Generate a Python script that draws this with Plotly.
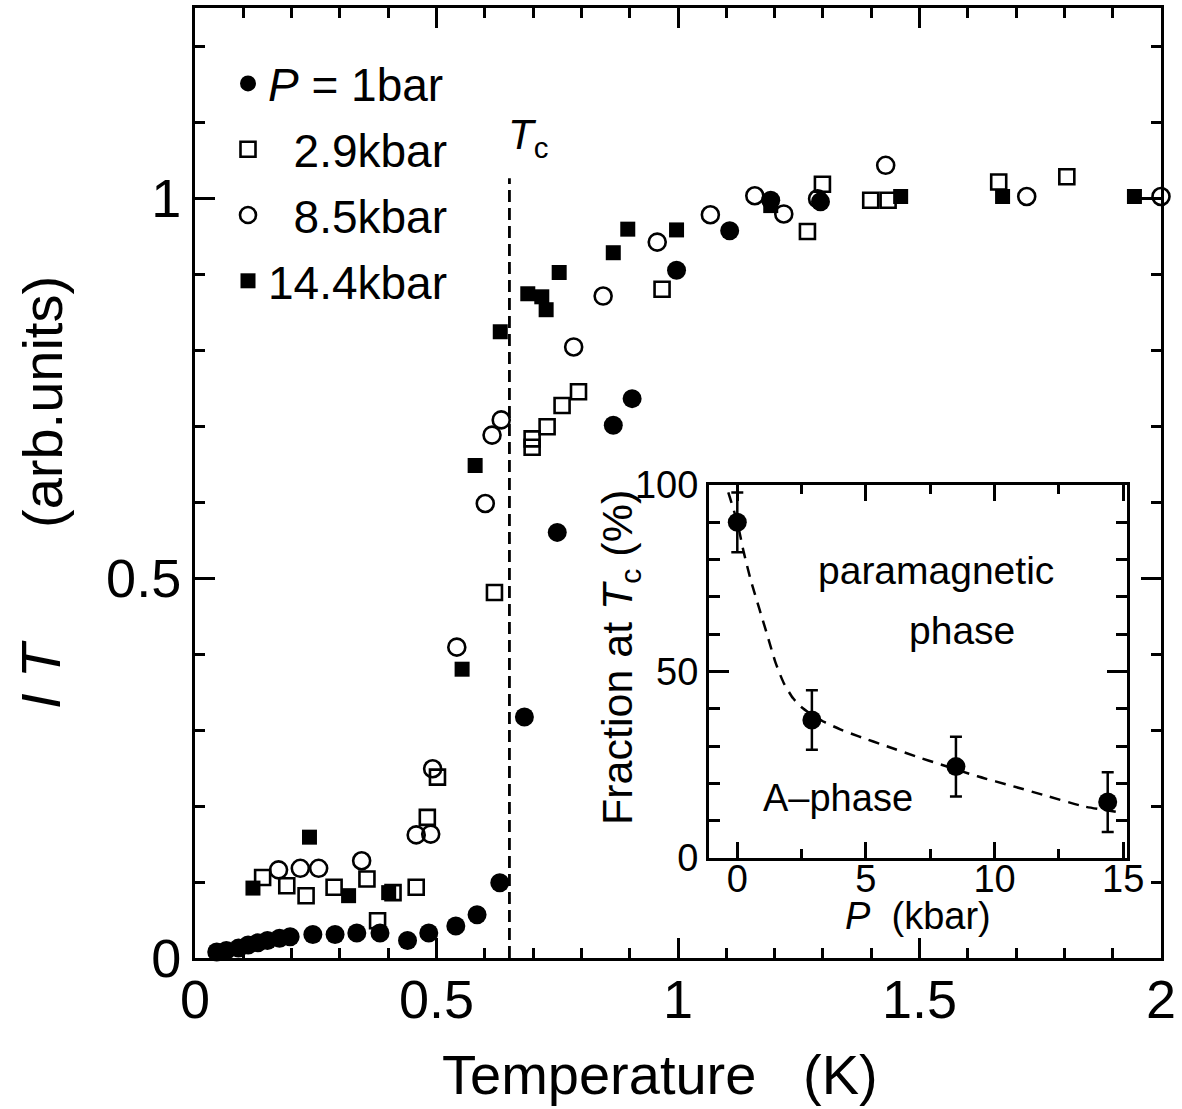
import plotly.graph_objects as go

# ---------------- data ----------------
T_1bar = [0.045, 0.065, 0.090, 0.110, 0.130, 0.150, 0.175, 0.197, 0.244, 0.290, 0.335, 0.383,
          0.440, 0.484, 0.540, 0.584, 0.631, 0.682, 0.750, 0.866, 0.905, 0.997, 1.107, 1.192, 1.295]
I_1bar = [0.008, 0.010, 0.013, 0.017, 0.020, 0.023, 0.026, 0.028, 0.031, 0.031, 0.033, 0.033,
          0.023, 0.033, 0.042, 0.057, 0.099, 0.317, 0.560, 0.701, 0.736, 0.905, 0.957, 0.997, 0.995]

T_2p9 = [0.140, 0.190, 0.230, 0.288, 0.356, 0.378, 0.410, 0.458, 0.481, 0.502, 0.620, 0.698,
         0.698, 0.729, 0.760, 0.794, 0.967, 1.268, 1.299, 1.399, 1.435, 1.664, 1.805]
I_2p9 = [0.106, 0.095, 0.082, 0.093, 0.104, 0.049, 0.086, 0.093, 0.185, 0.238, 0.481, 0.683,
         0.672, 0.699, 0.727, 0.745, 0.880, 0.956, 1.018, 0.997, 0.997, 1.021, 1.028]

T_8p5 = [0.173, 0.218, 0.256, 0.345, 0.458, 0.488, 0.492, 0.542, 0.601, 0.615, 0.634, 0.784,
         0.845, 0.957, 1.067, 1.159, 1.219, 1.289, 1.430, 1.722, 2.000]
I_8p5 = [0.116, 0.118, 0.118, 0.128, 0.162, 0.163, 0.249, 0.409, 0.598, 0.688, 0.708, 0.804,
         0.871, 0.942, 0.978, 1.003, 0.979, 0.999, 1.043, 1.002, 1.002]

T_14p4 = [0.120, 0.237, 0.318, 0.401, 0.553, 0.580, 0.632, 0.689, 0.718, 0.727, 0.754, 0.866,
          0.896, 0.997, 1.192, 1.461, 1.672, 1.945]
I_14p4 = [0.092, 0.159, 0.082, 0.086, 0.380, 0.648, 0.824, 0.874, 0.870, 0.853, 0.902, 0.928,
          0.959, 0.958, 0.990, 1.002, 1.002, 1.002]

Tc = 0.651
Tc_line_top = 1.026

# inset
P_kbar = [0.0, 2.9, 8.5, 14.4]
fraction = [90.0, 37.0, 24.5, 15.0]
fraction_err = [8.0, 8.0, 8.0, 8.0]
fit_P = [-0.35, 0.0, 0.25, 0.52, 0.87, 1.22, 1.48, 1.8, 2.17, 2.5, 2.9, 3.4, 4.0, 4.72,
         5.84, 6.96, 7.94, 9.34, 10.74, 12.1, 13.5, 15.0]
fit_F = [98, 90, 82, 74.6, 66.5, 58.5, 52.5, 47.0, 42.8, 40.4, 38.4, 36.4, 34.5, 32.6,
         29.9, 27.2, 25.0, 21.9, 19.2, 16.5, 13.8, 12.1]

x_ticks = [0, 0.5, 1, 1.5, 2]
x_ticktext = ["0", "0.5", "1", "1.5", "2"]
y_ticks = [0, 0.5, 1]
y_ticktext = ["0", "0.5", "1"]
ix_ticks = [0, 5, 10, 15]
iy_ticks = [0, 50, 100]

FONT = "Liberation Sans, Arial, Helvetica, sans-serif"
BLACK = "black"

# plot-area geometry in pixels (used for paper-coordinate placement)
L, R, T, B = 195, 21, 8, 151
W, H = 1182, 1109
PW, PH = W - L - R, H - T - B


def px(xp):
    return (xp - L) / PW


def py(yp):
    return (H - B - yp) / PH


fig = go.Figure()

fig.add_trace(go.Scatter(x=T_1bar, y=I_1bar, mode="markers", name="<i>P</i> = 1bar",
                         legendgroup="a", cliponaxis=False,
                         marker=dict(symbol="circle", size=19, color=BLACK, line=dict(width=0))))
fig.add_trace(go.Scatter(x=T_2p9, y=I_2p9, mode="markers", name="\u00a0\u00a02.9kbar",
                         legendgroup="b", cliponaxis=False,
                         marker=dict(symbol="square-open", size=15, color=BLACK, line=dict(width=2.6, color=BLACK))))
fig.add_trace(go.Scatter(x=T_8p5, y=I_8p5, mode="markers", name="\u00a0\u00a08.5kbar",
                         legendgroup="c", cliponaxis=False,
                         marker=dict(symbol="circle-open", size=17, color=BLACK, line=dict(width=2.6, color=BLACK))))
fig.add_trace(go.Scatter(x=T_14p4, y=I_14p4, mode="markers", name="14.4kbar",
                         legendgroup="d", cliponaxis=False,
                         marker=dict(symbol="square", size=15, color=BLACK, line=dict(width=0))))

# Tc dashed line
fig.add_shape(type="line", xref="x", yref="y", x0=Tc, x1=Tc, y0=0, y1=Tc_line_top,
              line=dict(color=BLACK, width=2.8, dash="12px,6px"))

# inset traces
fig.add_trace(go.Scatter(x=fit_P, y=fit_F, mode="lines", xaxis="x2", yaxis="y2", showlegend=False,
                         line=dict(color=BLACK, width=2.5, dash="11px,8px", shape="spline", smoothing=0.6),
                         cliponaxis=True))
fig.add_trace(go.Scatter(x=P_kbar, y=fraction, mode="markers", xaxis="x2", yaxis="y2", showlegend=False,
                         marker=dict(symbol="circle", size=19, color=BLACK),
                         error_y=dict(type="data", array=fraction_err, visible=True, color=BLACK,
                                      thickness=2.5, width=6),
                         cliponaxis=False))

axis_common = dict(showgrid=False, zeroline=False, showline=True, linecolor=BLACK, linewidth=3,
                   mirror="ticks", ticks="inside", tickcolor=BLACK, automargin=False)

fig.update_layout(
    width=W, height=H,
    margin=dict(l=L, r=R, t=T, b=B, autoexpand=False),
    paper_bgcolor="white", plot_bgcolor="white",
    font=dict(family=FONT, color=BLACK),
    xaxis=dict(range=[0, 2], tickvals=x_ticks, ticktext=x_ticktext, ticklen=20, tickwidth=2.5,
               tickfont=dict(size=54), ticklabelstandoff=-8,
               minor=dict(dtick=0.1, tick0=0, ticklen=10, tickwidth=2.5,
                          ticks="inside", tickcolor=BLACK),
               **axis_common),
    yaxis=dict(range=[0, 1.25], tickvals=y_ticks, ticktext=y_ticktext, ticklen=20, tickwidth=2.5,
               tickfont=dict(size=54),
               minor=dict(dtick=0.1, tick0=0, ticklen=10, tickwidth=2.5,
                          ticks="inside", tickcolor=BLACK),
               **axis_common),
    xaxis2=dict(domain=[px(709), px(1127)], anchor="y2", range=[-1.1, 15.15], tickvals=ix_ticks,
                ticklen=16, tickwidth=2.5, tickfont=dict(size=38), ticklabelstandoff=-15,
                minor=dict(dtick=2.5, tick0=0, ticklen=9, tickwidth=2.5, ticks="inside", tickcolor=BLACK),
                **axis_common),
    yaxis2=dict(domain=[py(858), py(485)], anchor="x2", range=[0, 100], tickvals=iy_ticks,
                ticklen=20, tickwidth=2.5, tickfont=dict(size=38),
                minor=dict(dtick=10, tick0=0, ticklen=11, tickwidth=2.5, ticks="inside", tickcolor=BLACK),
                **axis_common),
    showlegend=True,
    legend=dict(x=px(228), y=py(47), xanchor="left", yanchor="top", bgcolor="rgba(0,0,0,0)",
                font=dict(size=46, family=FONT), traceorder="grouped", tracegroupgap=3,
                itemsizing="trace"),
)

ann_common = dict(showarrow=False, xanchor="center", yanchor="middle")
annotations = [
    dict(text="<i>T</i><sub>c</sub>", x=0.69, y=1.08, xref="x", yref="y", font=dict(size=42), **ann_common),
    dict(text="Temperature\u00a0\u00a0\u00a0(K)", x=px(660), y=py(1074),
         xref="paper", yref="paper", font=dict(size=56), **ann_common),
    dict(text="<i>I T</i>", x=px(40), y=py(675), xref="paper", yref="paper",
         textangle=-90, font=dict(size=56), **ann_common),
    dict(text="(arb.units)", x=px(42), y=py(402), xref="paper", yref="paper",
         textangle=-90, font=dict(size=56), **ann_common),
    dict(text="paramagnetic", x=7.73, y=77, xref="x2", yref="y2", font=dict(size=39), **ann_common),
    dict(text="phase", x=8.74, y=61, xref="x2", yref="y2", font=dict(size=39), **ann_common),
    dict(text="A\u2013phase", x=3.93, y=16, xref="x2", yref="y2", font=dict(size=38), **ann_common),
    dict(text="Fraction at <i>T</i><sub>c</sub> (%)", x=px(620), y=py(658),
         xref="paper", yref="paper", textangle=-90, font=dict(size=43), **ann_common),
    dict(text="<i>P</i>\u00a0\u00a0(kbar)", x=px(918), y=py(916),
         xref="paper", yref="paper", font=dict(size=38), **ann_common),
]
fig.update_layout(annotations=annotations)

fig.write_html("out.html")
